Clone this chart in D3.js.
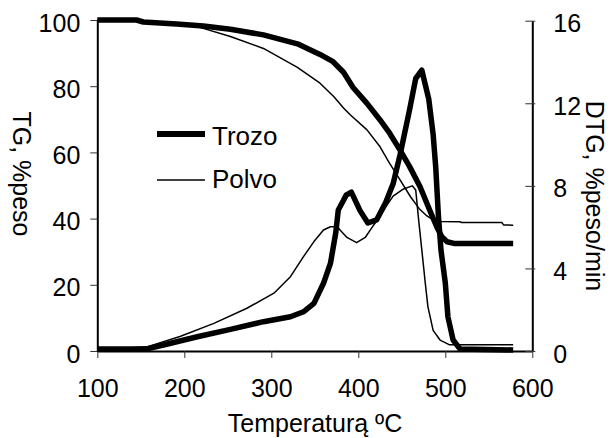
<!DOCTYPE html>
<meta charset="utf-8">
<style>
body { margin: 0; background: #fff; }
text { font-family: "Liberation Sans", Arial, sans-serif; fill: #000; }
.axis path { stroke: #000; stroke-width: 2px; }
.axis line { stroke: #333; stroke-width: 1px; }
.axis text { font-size: 25px; }
.curve { fill: none; stroke: #000; stroke-linejoin: round; }
.thick { stroke-width: 5.5px; }
.thin { stroke-width: 1.5px; }
</style>
<svg width="615" height="438"></svg>
<script src="https://cdn.jsdelivr.net/npm/d3@7"></script>
<script>

// temperatures (ºC) and values
var tgTrozoT = [100,145,153,191,222,253,291,330,356,371,383,394,410,425,436,448,459,471,482,490,496,502,510,578];
var tgTrozo  = [100,100,99.4,98.8,98.2,97.2,95.5,92.8,89.6,87.4,84.2,79.6,74.8,69.8,65.8,60.7,55.7,49.6,42.6,37.6,34.5,33.0,32.5,32.5];

var tgPolvoT = [100,150,190,215,253,291,330,356,372,383,391,410,425,436,448,460,470,478,486,494,517,519,565,567,578];
var tgPolvo  = [100,99.6,98.7,98,95,91.4,85.7,80.9,76.8,73.4,71.3,66.8,61.7,56.7,51.7,46.6,43,41,39.6,39.1,39.05,38.8,38.8,38.1,38.0];

var dtgTrozoT = [100,157,176,215,253,291,322,337,349,360,368,374,377,383,386,392,402,411,421,431,440,448,459,466,473,481,486,489,492,495,500,503,509,517,578];
var dtgTrozo  = [0.1,0.1,0.29,0.69,1.05,1.42,1.66,1.9,2.31,3.28,4.25,5.7,6.83,7.3,7.55,7.7,6.8,6.2,6.35,7.15,8.1,9.5,11.7,13.2,13.6,12.2,10.5,8.9,6.6,4.9,3.3,1.66,0.53,0.1,0.05];

var dtgPolvoT = [100,157,195,234,272,303,322,337,349,360,368,376,379,387,398,408,415,421,431,440,452,462,466,469,473,477,480,486,494,505,578];
var dtgPolvo  = [0.05,0.2,0.7,1.34,2.07,2.8,3.6,4.57,5.3,5.86,6.02,6.02,5.86,5.5,5.25,5.5,5.94,6.3,6.95,7.5,7.85,8.0,7.8,6.5,4.9,3.28,2.15,1.0,0.53,0.3,0.3];

var xTicks = [100,200,300,400,500,600];
var tgTicks = [0,20,40,60,80,100];
var dtgTicks = [0,4,8,12,16];

var series = ["Trozo", "Polvo"];

var svg = d3.select("svg");

var x = d3.scaleLinear().domain([100, 600]).range([97.3, 532.3]);
var yL = d3.scaleLinear().domain([0, 100]).range([351, 20]);
var yR = d3.scaleLinear().domain([0, 16]).range([351, 20.7]);

// axes
svg.append("g").attr("class", "axis")
    .attr("transform", "translate(0,351)")
    .call(d3.axisBottom(x).tickValues(xTicks).tickSize(7).tickSizeOuter(0).tickPadding(21));

var gl = svg.append("g").attr("class", "axis")
    .attr("transform", "translate(97.3,0)")
    .call(d3.axisLeft(yL).tickValues(tgTicks).tickSize(7).tickSizeOuter(0).tickPadding(10));
gl.selectAll("text").attr("dy", "0.44em");

var gr = svg.append("g").attr("class", "axis")
    .attr("transform", "translate(532.3,0)")
    .call(d3.axisRight(yR).tickValues(dtgTicks).tickSize(3).tickSizeOuter(0).tickPadding(18));
gr.selectAll("line").attr("x1", -7);
gr.selectAll("text").attr("dy", "0.44em");

// curves
function draw(ts, vs, y, cls) {
  var pts = ts.map(function(t, i) { return [t, vs[i]]; });
  var line = d3.line()
      .x(function(d) { return x(d[0]); })
      .y(function(d) { return y(d[1]); });
  svg.append("path").datum(pts).attr("class", "curve " + cls).attr("d", line);
}
draw(tgPolvoT, tgPolvo, yL, "thin");
draw(dtgPolvoT, dtgPolvo, yR, "thin");
draw(tgTrozoT, tgTrozo, yL, "thick");
draw(dtgTrozoT, dtgTrozo, yR, "thick");

// legend
var legend = svg.append("g");
series.forEach(function(name, i) {
  var ly = i === 0 ? 134 : 180;
  legend.append("line")
      .attr("x1", 157).attr("x2", 205).attr("y1", ly).attr("y2", ly)
      .attr("stroke", "#000").attr("stroke-width", i === 0 ? 6 : 1.5);
  legend.append("text")
      .attr("x", 212).attr("y", ly + (i === 0 ? 11 : 8))
      .style("font-size", "26px")
      .text(name);
});

// axis titles
svg.append("text")
    .attr("transform", "translate(315,432)")
    .attr("text-anchor", "middle")
    .style("font-size", "25px")
    .text("Temperaturą ºC");

svg.append("text")
    .attr("transform", "translate(13,174) rotate(90)")
    .attr("text-anchor", "middle")
    .style("font-size", "25px")
    .text("TG, %peso");

svg.append("text")
    .attr("transform", "translate(586,196) rotate(90)")
    .attr("text-anchor", "middle")
    .style("font-size", "25px")
    .text("DTG, %peso/min");

</script>
